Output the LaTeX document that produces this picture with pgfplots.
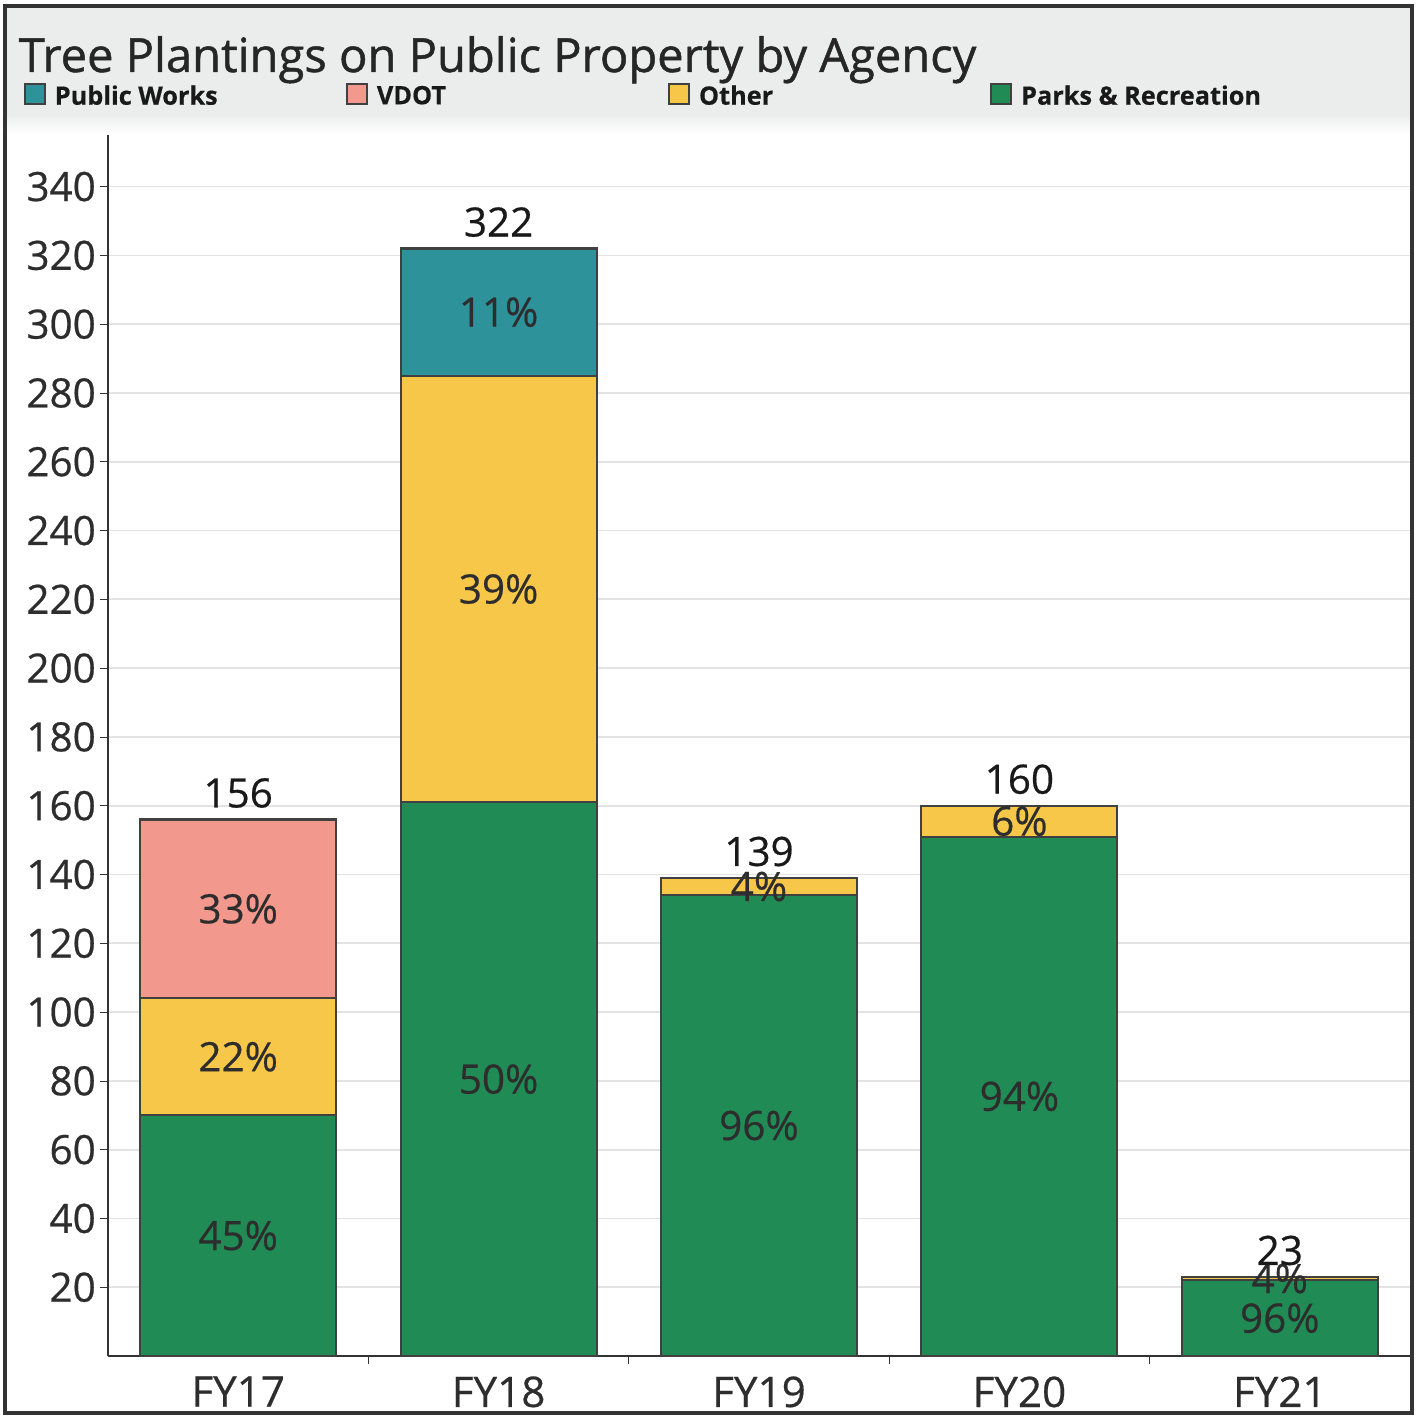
\documentclass[border=0pt]{standalone}
\usepackage{fontspec}
\setmainfont{Open Sans}[FakeBold=0.5]
\newfontfamily\titlefont{Open Sans}[FakeBold=1.0]
\usepackage{pgfplots}
\pgfplotsset{compat=1.18}

\definecolor{pw}{RGB}{46,146,155}
\definecolor{vdot}{RGB}{242,152,140}
\definecolor{oth}{RGB}{246,199,72}
\definecolor{parks}{RGB}{33,139,86}
\definecolor{hdr}{RGB}{235,237,237}
\definecolor{txt}{RGB}{45,45,45}

\begin{document}
\begin{tikzpicture}
\useasboundingbox (-1.08,-0.60) rectangle (13.09,13.56);
% header band
\fill[hdr] (-1.03,12.42) rectangle (13.04,13.50);
\shade[top color=hdr, bottom color=white] (-1.03,12.22) rectangle (13.04,12.42);
\node[anchor=base west, inner sep=0pt, font=\titlefont\fontsize{13.4}{15}\selectfont, text=black!85]
  at (-0.90,12.84) {Tree Plantings on Public Property by Agency};

\begin{axis}[
  at={(0,0)}, anchor=south west,
  scale only axis,
  width=13.02cm, height=12.21cm,
  ybar stacked,
  bar width=1.96cm,
  xmin=-0.5, xmax=4.5,
  ymin=0, ymax=355,
  xtick={0,1,2,3,4},
  xticklabels={FY17,FY18,FY19,FY20,FY21},
  x tick style={draw=none},
  extra x ticks={0.5,1.5,2.5,3.5},
  extra x tick labels={},
  extra x tick style={x tick style={draw=black!80}, grid=none},
  ytick={20,40,...,340},
  tick align=outside,
  major tick length=0.08cm,
  y tick style={black!80},
  ymajorgrids,
  grid style={line width=0.5pt, black!11},
  axis x line*=bottom,
  axis y line*=left,
  axis line style={-, black!80, line width=0.8pt},
  ticklabel style={font=\fontsize{11.5}{13}\selectfont, text=txt},
  yticklabel style={inner xsep=1pt},
  xticklabel style={font=\fontsize{12}{13}\selectfont},
  /pgf/number format/assume math mode=true,
  every axis plot/.append style={draw=black!75, line width=0.6pt},
  reverse legend,
  legend columns=4,
  legend style={draw=none, fill=none, inner sep=0pt,
    at={(axis description cs:-0.0653,1.0317)}, anchor=west,
    font=\fontsize{7.2}{8.5}\selectfont\bfseries, text=black!90,
    nodes={inner sep=0pt},
    /tikz/every even column/.append style={column sep=0pt}},
  legend image code/.code={\draw[#1, draw=black!75, line width=0.6pt] (0cm,-0.06cm) rectangle (0.2cm,0.14cm);},
]
\addplot[fill=parks] coordinates {(0,70) (1,161) (2,134) (3,151) (4,22)};
\addlegendentry{\hspace{0.09cm}\makebox[2.91cm][l]{Parks \& Recreation}}
\addplot[fill=oth] coordinates {(0,34) (1,124) (2,5) (3,9) (4,1)};
\addlegendentry{\hspace{0.09cm}\makebox[2.91cm][l]{Other}}
\addplot[fill=vdot] coordinates {(0,52) (1,0) (2,0) (3,0) (4,0)};
\addlegendentry{\hspace{0.09cm}\makebox[2.91cm][l]{VDOT}}
\addplot[fill=pw] coordinates {(0,0) (1,37) (2,0) (3,0) (4,0)};
\addlegendentry{\hspace{0.09cm}\makebox[2.91cm][l]{Public Works}}
\end{axis}

\begin{axis}[
  at={(0,0)}, anchor=south west,
  scale only axis,
  width=13.02cm, height=12.21cm,
  xmin=-0.5, xmax=4.5,
  ymin=0, ymax=355,
  hide axis, clip=false,
]
% segment shares
\addplot[draw=none, point meta=explicit symbolic,
  nodes near coords={\pgfplotspointmeta}, nodes near coords align={center},
  every node near coord/.append style={anchor=center, font=\fontsize{11.5}{13}\selectfont, text=txt}]
  coordinates {
  (0,35) [45\%] (0,87) [22\%] (0,130) [33\%]
  (1,80.5) [50\%] (1,223) [39\%] (1,303.5) [11\%]
  (2,67) [96\%] (2,136.5) [4\%]
  (3,75.5) [94\%] (3,155.5) [6\%]
  (4,11) [96\%] (4,22.5) [4\%]
};
% totals
\addplot[draw=none, point meta=explicit symbolic,
  nodes near coords={\pgfplotspointmeta},
  every node near coord/.append style={anchor=base, yshift=0.12cm, inner sep=0pt, font=\fontsize{11.5}{13}\selectfont, text=black!90}]
  coordinates {(0,156) [156] (1,322) [322] (2,139) [139] (3,160) [160] (4,23) [23]};
\end{axis}

\draw[black!80, line width=1.2pt] (-1.03,-0.57) rectangle (13.04,13.50);
\end{tikzpicture}
\end{document}
